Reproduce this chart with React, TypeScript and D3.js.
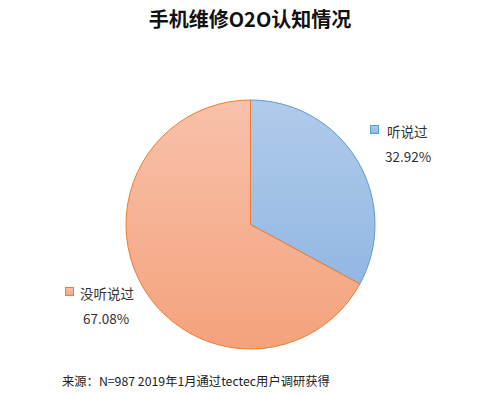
import React, { useEffect, useRef } from 'react';
import * as d3 from 'd3';

const CATEGORIES = ['听说过', '没听说过'];
const VALUES = [32.92, 67.08];
const LABELS = ['32.92%', '67.08%'];
const FILLS = [['#b0cbea', '#93b7e3'], ['#f8c1ab', '#f4a27c']];
const STROKES = ['#5b9bd5', '#ed7d31'];

const W = 500;
const H = 395;

export default function App() {
  const svgRef = useRef<SVGSVGElement>(null);

  useEffect(() => {
    if (!svgRef.current) return;
    const svg = d3.select(svgRef.current);
    svg.selectAll('*').remove();
    const font = '"Noto Sans CJK SC", "Noto Sans", sans-serif';

    svg.append('rect').attr('width', W).attr('height', H).attr('fill', '#fff');

    const defs = svg.append('defs');
    FILLS.forEach((f, i) => {
      const lg = defs.append('linearGradient')
        .attr('id', `grad${i}`)
        .attr('x1', 0).attr('y1', 0).attr('x2', 0).attr('y2', 1);
      lg.append('stop').attr('offset', '0%').attr('stop-color', f[0]);
      lg.append('stop').attr('offset', '100%').attr('stop-color', f[1]);
    });

    svg.append('text')
      .attr('x', 250).attr('y', 27)
      .attr('text-anchor', 'middle')
      .attr('font-family', font)
      .attr('font-size', 20)
      .attr('font-weight', 'bold')
      .attr('fill', '#111')
      .text('手机维修O2O认知情况');

    const cx = 250.5;
    const cy = 224.5;
    const r = 124.5;

    const pie = d3.pie<number>().value((d) => d).sort(null);
    const arc = d3.arc<d3.PieArcDatum<number>>().innerRadius(0).outerRadius(r);
    const arcs = pie(VALUES);

    const g = svg.append('g').attr('transform', `translate(${cx},${cy})`);
    g.selectAll('path.slice')
      .data(arcs)
      .enter()
      .append('path')
      .attr('class', 'slice')
      .attr('d', arc)
      .attr('fill', (_, i) => `url(#grad${i})`)
      .attr('stroke', (_, i) => STROKES[i])
      .attr('stroke-width', 1);

    // legend-style labels beside the slices
    const labelPos = [
      { sx: 370, sy: 125, tx: 387, ty: 137, px: 385, py: 162 },
      { sx: 65, sy: 287, tx: 80, ty: 299, px: 83, py: 324 },
    ];
    labelPos.forEach((p, i) => {
      svg.append('rect')
        .attr('x', p.sx + 0.5).attr('y', p.sy + 0.5)
        .attr('width', 8).attr('height', 8)
        .attr('fill', `url(#grad${i})`)
        .attr('stroke', STROKES[i])
        .attr('stroke-width', 1);
      svg.append('text')
        .attr('x', p.tx).attr('y', p.ty)
        .attr('font-family', font)
        .attr('font-size', 13.5)
        .attr('fill', '#333')
        .text(CATEGORIES[i]);
      svg.append('text')
        .attr('x', p.px).attr('y', p.py)
        .attr('font-family', font)
        .attr('font-size', 13.5)
        .attr('fill', '#333')
        .text(LABELS[i]);
    });

    svg.append('text')
      .attr('x', 62).attr('y', 386)
      .attr('font-family', font)
      .attr('font-size', 12.3)
      .attr('fill', '#222')
      .text('来源：N=987 2019年1月通过tectec用户调研获得');
  }, []);

  return (
    <svg
      ref={svgRef}
      width={W}
      height={H}
      viewBox={`0 0 ${W} ${H}`}
      style={{ position: 'absolute', left: 0, top: 0 }}
    />
  );
}
